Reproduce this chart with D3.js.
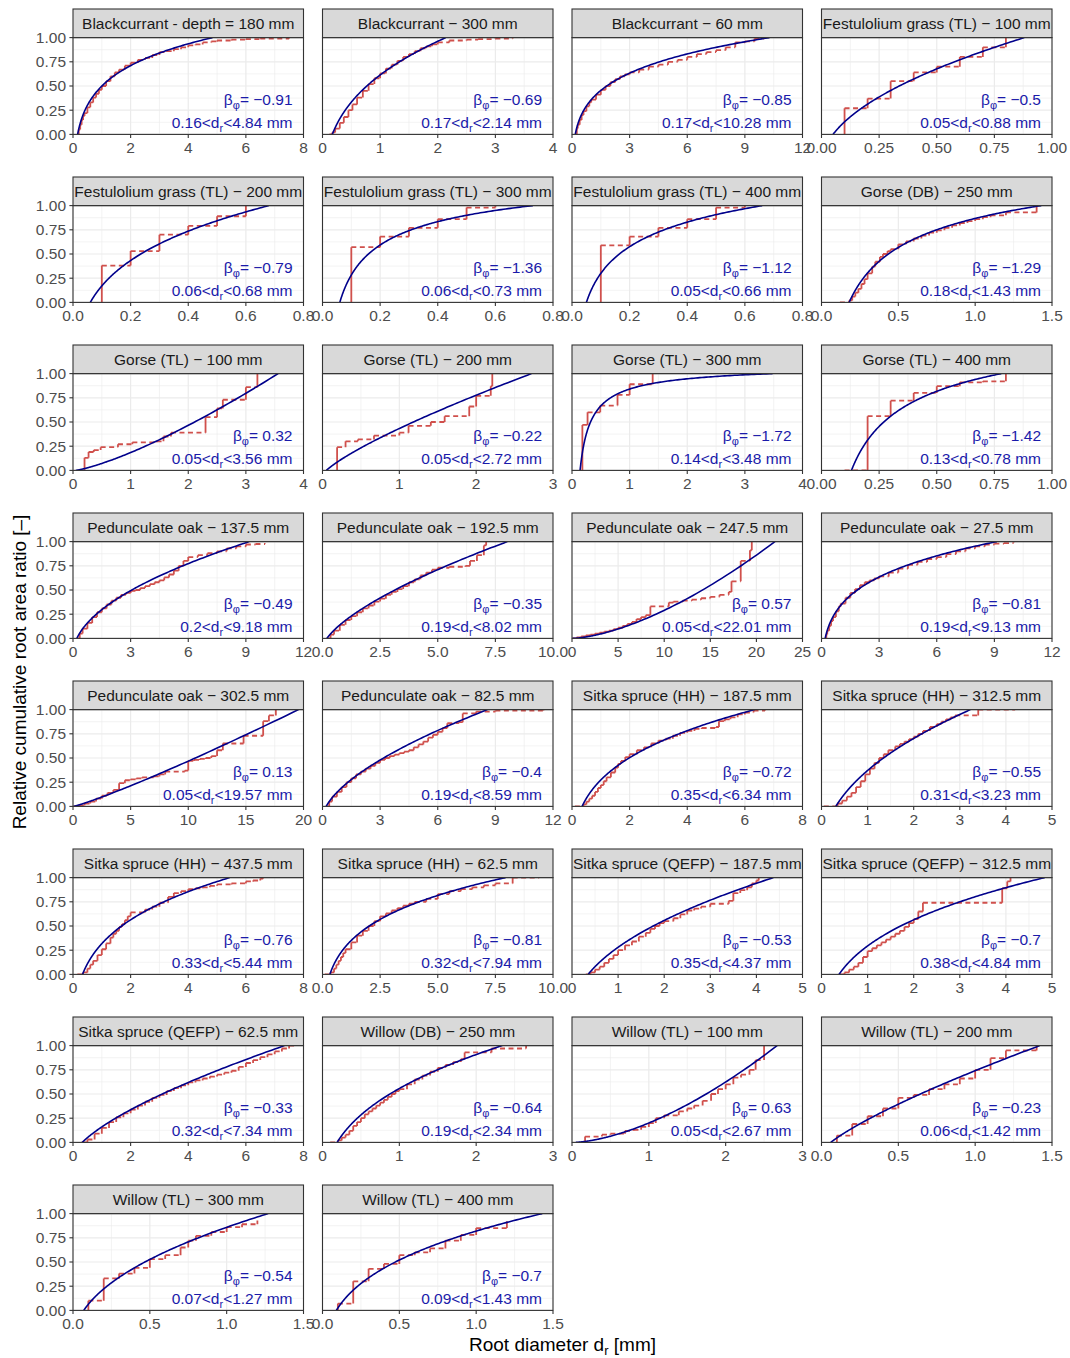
<!DOCTYPE html>
<html>
<head>
<meta charset="utf-8">
<script src="https://cdn.jsdelivr.net/npm/d3@7"></script>
<style>
body { margin: 0; background: #fff; }
text { font-family: "Liberation Sans", Arial, sans-serif; }
</style>
</head>
<body>
<div id="chart"></div>
<script>
// facet titles, in panel order (4 per row)
var panelTitles = [
	"Blackcurrant - depth = 180 mm", "Blackcurrant \u2212 300 mm", "Blackcurrant \u2212 60 mm", "Festulolium grass (TL) \u2212 100 mm",
	"Festulolium grass (TL) \u2212 200 mm", "Festulolium grass (TL) \u2212 300 mm", "Festulolium grass (TL) \u2212 400 mm", "Gorse (DB) \u2212 250 mm",
	"Gorse (TL) \u2212 100 mm", "Gorse (TL) \u2212 200 mm", "Gorse (TL) \u2212 300 mm", "Gorse (TL) \u2212 400 mm",
	"Pedunculate oak \u2212 137.5 mm", "Pedunculate oak \u2212 192.5 mm", "Pedunculate oak \u2212 247.5 mm", "Pedunculate oak \u2212 27.5 mm",
	"Pedunculate oak \u2212 302.5 mm", "Pedunculate oak \u2212 82.5 mm", "Sitka spruce (HH) \u2212 187.5 mm", "Sitka spruce (HH) \u2212 312.5 mm",
	"Sitka spruce (HH) \u2212 437.5 mm", "Sitka spruce (HH) \u2212 62.5 mm", "Sitka spruce (QEFP) \u2212 187.5 mm", "Sitka spruce (QEFP) \u2212 312.5 mm",
	"Sitka spruce (QEFP) \u2212 62.5 mm", "Willow (DB) \u2212 250 mm", "Willow (TL) \u2212 100 mm", "Willow (TL) \u2212 200 mm",
	"Willow (TL) \u2212 300 mm", "Willow (TL) \u2212 400 mm"
];

// fitted power-law exponent and diameter range per panel
var betaPhi = [-0.91, -0.69, -0.85, -0.5, -0.79, -1.36, -1.12, -1.29, 0.32, -0.22, -1.72, -1.42,
	-0.49, -0.35, 0.57, -0.81, 0.13, -0.4, -0.72, -0.55, -0.76, -0.81, -0.53, -0.7,
	-0.33, -0.64, 0.63, -0.23, -0.54, -0.7];
var dMin = [0.16, 0.17, 0.17, 0.05, 0.06, 0.06, 0.05, 0.18, 0.05, 0.05, 0.14, 0.13,
	0.2, 0.19, 0.05, 0.19, 0.05, 0.19, 0.35, 0.31, 0.33, 0.32, 0.35, 0.38,
	0.32, 0.19, 0.05, 0.06, 0.07, 0.09];
var dMax = [4.84, 2.14, 10.28, 0.88, 0.68, 0.73, 0.66, 1.43, 3.56, 2.72, 3.48, 0.78,
	9.18, 8.02, 22.01, 9.13, 19.57, 8.59, 6.34, 3.23, 5.44, 7.94, 4.37, 4.84,
	7.34, 2.34, 2.67, 1.42, 1.27, 1.43];

// x axis ticks per panel (last tick = axis limit)
var xTicks = [
	[0, 2, 4, 6, 8], [0, 1, 2, 3, 4], [0, 3, 6, 9, 12], [0, 0.25, 0.5, 0.75, 1],
	[0, 0.2, 0.4, 0.6, 0.8], [0, 0.2, 0.4, 0.6, 0.8], [0, 0.2, 0.4, 0.6, 0.8], [0, 0.5, 1, 1.5],
	[0, 1, 2, 3, 4], [0, 1, 2, 3], [0, 1, 2, 3, 4], [0, 0.25, 0.5, 0.75, 1],
	[0, 3, 6, 9, 12], [0, 2.5, 5, 7.5, 10], [0, 5, 10, 15, 20, 25], [0, 3, 6, 9, 12],
	[0, 5, 10, 15, 20], [0, 3, 6, 9, 12], [0, 2, 4, 6, 8], [0, 1, 2, 3, 4, 5],
	[0, 2, 4, 6, 8], [0, 2.5, 5, 7.5, 10], [0, 1, 2, 3, 4, 5], [0, 1, 2, 3, 4, 5],
	[0, 2, 4, 6, 8], [0, 1, 2, 3], [0, 1, 2, 3], [0, 0.5, 1, 1.5],
	[0, 0.5, 1, 1.5], [0, 0.5, 1, 1.5]
];
var yTicks = [0, 0.25, 0.5, 0.75, 1];

// measured cumulative root area ratio: [diameter, cumulative ratio]
var measured = [
	[[0.16,0],[0.2,0.05],[0.25,0.1],[0.3,0.15],[0.35,0.19],[0.4,0.22],[0.5,0.28],[0.6,0.33],[0.7,0.38],[0.8,0.42],[0.9,0.46],[1,0.5],[1.15,0.55],[1.3,0.6],[1.45,0.64],[1.6,0.67],[1.8,0.71],[2,0.74],[2.25,0.77],[2.5,0.79],[2.75,0.82],[3,0.85],[3.25,0.86],[3.5,0.88],[3.75,0.9],[4,0.92],[4.25,0.93],[4.5,0.95],[4.8,0.96],[5,0.97],[5.5,0.98],[6,0.985],[6.5,0.99],[7.5,1]],
	[[0.12,0],[0.17,0.02],[0.22,0.06],[0.3,0.12],[0.37,0.18],[0.45,0.25],[0.52,0.31],[0.6,0.38],[0.7,0.45],[0.8,0.52],[0.9,0.58],[1,0.63],[1.1,0.68],[1.2,0.72],[1.3,0.76],[1.4,0.8],[1.5,0.83],[1.6,0.86],[1.7,0.89],[1.8,0.91],[1.9,0.93],[2,0.95],[2.2,0.97],[2.5,0.98],[2.7,0.985],[3,0.99],[3.3,0.995]],
	[[0.17,0],[0.25,0.06],[0.3,0.1],[0.4,0.15],[0.5,0.2],[0.6,0.24],[0.75,0.29],[0.9,0.33],[1,0.36],[1.25,0.41],[1.5,0.46],[1.75,0.5],[2,0.54],[2.25,0.57],[2.5,0.6],[2.75,0.62],[3,0.64],[3.5,0.67],[4,0.7],[4.5,0.72],[5,0.75],[5.5,0.77],[6,0.8],[6.5,0.83],[7,0.85],[7.5,0.87],[8,0.9],[8.5,0.95],[9,0.96],[9.5,0.99],[10,1]],
	[[0.1,0.27],[0.2,0.37],[0.3,0.55],[0.4,0.64],[0.5,0.7],[0.6,0.8],[0.7,0.9],[0.8,1]],
	[[0.1,0.38],[0.2,0.53],[0.3,0.7],[0.4,0.79],[0.5,0.89],[0.6,1]],
	[[0.1,0.57],[0.2,0.68],[0.3,0.77],[0.4,0.86],[0.5,0.98],[0.6,1]],
	[[0.1,0.59],[0.2,0.68],[0.3,0.77],[0.4,0.86],[0.5,0.98],[0.6,1]],
	[[0.12,0],[0.18,0.02],[0.2,0.06],[0.22,0.1],[0.24,0.14],[0.26,0.19],[0.28,0.24],[0.3,0.3],[0.33,0.37],[0.35,0.42],[0.38,0.47],[0.4,0.5],[0.43,0.53],[0.45,0.55],[0.5,0.6],[0.55,0.63],[0.6,0.66],[0.65,0.69],[0.7,0.72],[0.75,0.745],[0.8,0.77],[0.85,0.795],[0.9,0.82],[0.95,0.84],[1,0.86],[1.05,0.88],[1.1,0.9],[1.2,0.93],[1.4,1]],
	[[0.2,0.13],[0.27,0.19],[0.36,0.21],[0.48,0.24],[0.78,0.27],[1.03,0.29],[1.45,0.3],[1.57,0.35],[1.7,0.39],[2.3,0.55],[2.5,0.64],[2.6,0.73],[3,0.86],[3.2,1]],
	[[0.19,0.24],[0.3,0.3],[0.46,0.32],[0.67,0.36],[1,0.39],[1.12,0.46],[1.41,0.5],[1.59,0.56],[1.91,0.66],[2,0.77],[2.19,0.87],[2.21,1]],
	[[0.18,0.47],[0.27,0.6],[0.49,0.67],[0.79,0.78],[1,0.89],[1.4,1]],
	[[0.1,0],[0.2,0.56],[0.3,0.72],[0.4,0.8],[0.5,0.87],[0.6,0.91],[0.7,0.92],[0.8,1]],
	[[0.2,0],[0.35,0.05],[0.5,0.1],[0.75,0.16],[1,0.22],[1.25,0.27],[1.5,0.31],[1.75,0.35],[2,0.39],[2.25,0.42],[2.5,0.45],[2.75,0.47],[3,0.49],[3.25,0.5],[3.5,0.52],[3.75,0.54],[4,0.56],[4.25,0.58],[4.5,0.6],[4.75,0.63],[5,0.66],[5.25,0.7],[5.5,0.75],[5.75,0.8],[6,0.84],[6.5,0.86],[7,0.88],[7.5,0.9],[8,0.93],[8.5,0.95],[9,0.97],[9.5,0.975],[10,0.98]],
	[[0.19,0],[0.35,0.04],[0.5,0.08],[0.75,0.14],[1,0.19],[1.25,0.23],[1.5,0.27],[1.75,0.31],[2,0.34],[2.25,0.38],[2.5,0.41],[2.75,0.45],[3,0.48],[3.25,0.51],[3.5,0.54],[3.75,0.58],[4,0.61],[4.25,0.65],[4.5,0.68],[4.75,0.71],[5,0.73],[5.5,0.74],[6.2,0.75],[6.4,0.8],[6.7,0.86],[7,0.96],[7.1,1]],
	[[0.05,0],[0.5,0.01],[1,0.02],[1.5,0.03],[2,0.04],[2.5,0.05],[3,0.06],[3.5,0.07],[4,0.08],[4.5,0.095],[5,0.11],[5.5,0.13],[6,0.15],[6.5,0.17],[7,0.2],[7.5,0.22],[8,0.24],[8.5,0.33],[10.5,0.37],[11,0.38],[12,0.39],[13,0.4],[14,0.415],[15,0.43],[16,0.45],[17,0.48],[17.3,0.59],[18.3,0.8],[19.3,0.91],[19.5,1]],
	[[0.19,0],[0.25,0.04],[0.3,0.08],[0.4,0.13],[0.5,0.18],[0.6,0.22],[0.75,0.28],[0.9,0.33],[1,0.36],[1.25,0.42],[1.5,0.47],[1.75,0.51],[2,0.55],[2.25,0.58],[2.5,0.6],[2.75,0.62],[3,0.64],[3.5,0.68],[4,0.72],[4.5,0.76],[5,0.79],[5.5,0.82],[6,0.84],[6.5,0.87],[7,0.9],[7.5,0.93],[8,0.95],[8.5,0.97],[9,0.98],[9.5,0.985],[10,0.99]],
	[[0.05,0],[0.5,0.01],[1,0.03],[1.5,0.05],[2,0.08],[2.5,0.11],[3,0.14],[3.5,0.17],[4,0.24],[4.5,0.27],[5,0.28],[5.5,0.29],[6,0.3],[7,0.31],[7.5,0.33],[8,0.36],[9.7,0.37],[10,0.47],[10.5,0.48],[11,0.49],[11.5,0.5],[12,0.52],[12.5,0.58],[13,0.65],[14.8,0.73],[16.5,0.88],[17,0.94],[17.6,1]],
	[[0.19,0],[0.35,0.05],[0.5,0.1],[0.75,0.15],[1,0.2],[1.25,0.25],[1.5,0.29],[1.75,0.33],[2,0.36],[2.25,0.39],[2.5,0.42],[2.75,0.45],[3,0.48],[3.25,0.5],[3.5,0.52],[3.75,0.535],[4,0.55],[4.25,0.565],[4.5,0.58],[4.75,0.61],[5,0.64],[5.25,0.67],[5.5,0.71],[5.75,0.74],[6,0.77],[6.25,0.81],[6.5,0.86],[7.1,0.87],[7.3,0.96],[8,0.98],[9,0.99],[11.5,1]],
	[[0.1,0],[0.4,0.02],[0.5,0.05],[0.6,0.08],[0.7,0.11],[0.8,0.15],[0.9,0.19],[1,0.22],[1.1,0.26],[1.2,0.3],[1.35,0.35],[1.5,0.4],[1.6,0.44],[1.7,0.47],[1.85,0.51],[2,0.54],[2.25,0.58],[2.5,0.61],[2.75,0.65],[3,0.68],[3.25,0.7],[3.5,0.73],[3.75,0.76],[4,0.78],[4.25,0.8],[4.5,0.81],[5,0.82],[5.1,0.88],[5.3,0.9],[5.5,0.92],[5.75,0.95],[6,0.97],[6.3,0.99],[6.7,1]],
	[[0.05,0],[0.35,0.03],[0.45,0.06],[0.55,0.1],[0.65,0.14],[0.75,0.2],[0.85,0.26],[0.95,0.33],[1.05,0.39],[1.15,0.45],[1.25,0.5],[1.35,0.54],[1.45,0.58],[1.6,0.62],[1.7,0.645],[1.8,0.67],[1.9,0.695],[2,0.72],[2.1,0.75],[2.2,0.78],[2.35,0.82],[2.5,0.85],[2.6,0.875],[2.7,0.9],[2.8,0.92],[2.9,0.94],[3.4,1],[4.2,1]],
	[[0.15,0],[0.35,0.02],[0.5,0.06],[0.6,0.1],[0.7,0.14],[0.85,0.2],[1,0.26],[1.15,0.32],[1.3,0.38],[1.4,0.42],[1.5,0.45],[1.6,0.49],[1.7,0.52],[1.8,0.56],[1.9,0.6],[2,0.64],[2.5,0.67],[2.75,0.7],[3,0.74],[3.3,0.8],[3.5,0.84],[3.75,0.86],[4,0.88],[4.25,0.89],[4.5,0.9],[4.75,0.915],[5,0.93],[5.5,0.94],[6,0.96],[6.25,0.97],[6.5,0.99],[6.6,1]],
	[[0.1,0],[0.35,0.02],[0.5,0.06],[0.6,0.1],[0.7,0.14],[0.8,0.18],[0.9,0.22],[1,0.26],[1.25,0.33],[1.5,0.4],[1.75,0.45],[2,0.5],[2.25,0.55],[2.5,0.6],[2.75,0.63],[3,0.66],[3.25,0.685],[3.5,0.71],[3.75,0.73],[4,0.75],[4.5,0.78],[5,0.83],[5.5,0.86],[6,0.88],[6.5,0.9],[7,0.92],[7.5,0.94],[8.25,1],[9.4,1]],
	[[0.3,0],[0.4,0.02],[0.5,0.05],[0.6,0.08],[0.7,0.12],[0.8,0.16],[0.9,0.2],[1,0.25],[1.15,0.3],[1.3,0.34],[1.45,0.39],[1.6,0.43],[1.7,0.47],[1.8,0.5],[1.9,0.53],[2,0.55],[2.2,0.58],[2.35,0.62],[2.5,0.66],[2.65,0.68],[2.8,0.7],[3,0.73],[3.4,0.76],[3.5,0.84],[3.65,0.87],[3.8,0.9],[3.9,0.94],[4,0.97],[4.05,1]],
	[[0.4,0],[0.5,0.02],[0.6,0.05],[0.7,0.08],[0.8,0.12],[0.9,0.18],[1,0.24],[1.1,0.27],[1.2,0.3],[1.3,0.33],[1.4,0.36],[1.5,0.39],[1.6,0.42],[1.7,0.45],[1.8,0.49],[1.9,0.53],[2,0.57],[2.1,0.65],[2.2,0.74],[3.92,0.89],[4.03,0.96],[4.1,1]],
	[[0.3,0],[0.5,0.03],[0.75,0.09],[1,0.15],[1.25,0.21],[1.5,0.26],[1.75,0.3],[2,0.34],[2.25,0.38],[2.5,0.42],[2.75,0.46],[3,0.49],[3.25,0.53],[3.5,0.56],[3.75,0.59],[4,0.62],[4.25,0.64],[4.5,0.66],[4.75,0.68],[5,0.7],[5.25,0.72],[5.5,0.74],[5.75,0.78],[6,0.82],[6.25,0.85],[6.5,0.88],[6.75,0.91],[7,0.94],[7.25,0.97],[7.5,1],[7.7,1]],
	[[0.1,0],[0.2,0.02],[0.25,0.05],[0.3,0.08],[0.35,0.12],[0.4,0.17],[0.45,0.21],[0.5,0.25],[0.55,0.29],[0.6,0.32],[0.65,0.35],[0.7,0.38],[0.75,0.41],[0.8,0.44],[0.85,0.47],[0.9,0.5],[0.95,0.53],[1,0.55],[1.1,0.6],[1.2,0.65],[1.3,0.69],[1.4,0.73],[1.5,0.77],[1.6,0.8],[1.7,0.83],[1.8,0.86],[1.85,0.93],[2.2,0.97],[2.65,1]],
	[[0.17,0.06],[0.39,0.08],[0.5,0.09],[0.69,0.12],[0.8,0.13],[0.9,0.16],[1,0.2],[1.09,0.25],[1.2,0.28],[1.39,0.32],[1.5,0.35],[1.59,0.38],[1.7,0.43],[1.81,0.5],[1.9,0.55],[2,0.6],[2.1,0.67],[2.2,0.7],[2.31,0.75],[2.39,0.85],[2.5,1]],
	[[0.1,0.07],[0.2,0.19],[0.3,0.27],[0.4,0.35],[0.5,0.46],[0.6,0.49],[0.7,0.55],[0.8,0.6],[0.9,0.66],[1,0.75],[1.1,0.87],[1.2,0.95],[1.4,1]],
	[[0.1,0.1],[0.2,0.33],[0.3,0.38],[0.4,0.44],[0.5,0.53],[0.6,0.57],[0.7,0.65],[0.75,0.72],[0.8,0.77],[0.9,0.81],[1,0.86],[1.1,0.89],[1.2,0.93]],
	[[0.1,0.07],[0.2,0.3],[0.3,0.43],[0.4,0.48],[0.5,0.57],[0.6,0.6],[0.7,0.64],[0.8,0.72],[0.9,0.78],[1,0.85],[1.2,0.92]]
];

var width = 1070, height = 1358;
var marginLeft = 73, marginTop = 9, colStep = 249.5, rowStep = 168;
var pw = 230.5, ph = 96.8, stripH = 28.6;
var red = "#d0504c", blue = "#00008b", textBlue = "#1a1aaa";

var svg = d3.select("#chart").append("svg")
	.attr("width", width)
	.attr("height", height);

// cumulative of a power law d^beta between lo and d, normalised to 1 at hi
function fitCurve(b, lo, hi) {
	var e = b + 1;
	var F = function(d){ return Math.abs(e) < 1e-9 ? Math.log(d) : Math.pow(d, e) / e; };
	return d3.range(201).map(function(k){
		var d = lo * Math.pow(hi / lo, k / 200);
		return [d, (F(d) - F(lo)) / (F(hi) - F(lo))];
	});
}

function signed(v){
	return (v < 0 ? "\u2212" : "") + Math.abs(v);
}

panelTitles.forEach(function(title, i){
	var c = i % 4, r = Math.floor(i / 4);
	var x0 = marginLeft + c * colStep;
	var sy = marginTop + r * rowStep;
	var y0 = sy + stripH;
	var ticks = xTicks[i];
	var decimals = (String(ticks[1]).split(".")[1] || "").length;
	var fmt = d3.format("." + decimals + "f");

	var x = d3.scaleLinear().domain([0, ticks[ticks.length - 1]]).range([0, pw]);
	var y = d3.scaleLinear().domain([0, 1]).range([ph, 0]);

	var g = svg.append("g").attr("transform", "translate(" + x0 + "," + y0 + ")");

	svg.append("clipPath").attr("id", "clip" + i)
		.append("rect").attr("width", pw).attr("height", ph);

	g.append("rect").attr("width", pw).attr("height", ph).attr("fill", "#fff");

	// grid
	var xMinor = ticks.slice(1).map(function(t, k){ return (t + ticks[k]) / 2; });
	var yMinor = yTicks.slice(1).map(function(t, k){ return (t + yTicks[k]) / 2; });
	g.selectAll(null).data(xMinor).enter().append("line")
		.attr("x1", x).attr("x2", x).attr("y1", 0).attr("y2", ph)
		.attr("stroke", "#ebebeb").attr("stroke-width", 0.6);
	g.selectAll(null).data(yMinor).enter().append("line")
		.attr("y1", y).attr("y2", y).attr("x1", 0).attr("x2", pw)
		.attr("stroke", "#ebebeb").attr("stroke-width", 0.6);
	g.selectAll(null).data(ticks).enter().append("line")
		.attr("x1", x).attr("x2", x).attr("y1", 0).attr("y2", ph)
		.attr("stroke", "#ebebeb").attr("stroke-width", 1.2);
	g.selectAll(null).data(yTicks).enter().append("line")
		.attr("y1", y).attr("y2", y).attr("x1", 0).attr("x2", pw)
		.attr("stroke", "#ebebeb").attr("stroke-width", 1.2);

	var plot = g.append("g").attr("clip-path", "url(#clip" + i + ")");

	// measured step curve: risers solid, treads dashed
	var pts = measured[i];
	var risers = [], treads = [];
	var prev = 0;
	pts.forEach(function(p, k){
		risers.push([p[0], prev, p[1]]);
		if (k < pts.length - 1) treads.push([p[0], pts[k + 1][0], p[1]]);
		prev = p[1];
	});
	plot.selectAll(null).data(treads).enter().append("line")
		.attr("x1", function(s){ return x(s[0]); })
		.attr("x2", function(s){ return x(s[1]); })
		.attr("y1", function(s){ return y(s[2]); })
		.attr("y2", function(s){ return y(s[2]); })
		.attr("stroke", red).attr("stroke-width", 1.8)
		.attr("stroke-dasharray", "5,3.5");
	plot.selectAll(null).data(risers).enter().append("line")
		.attr("x1", function(s){ return x(s[0]); })
		.attr("x2", function(s){ return x(s[0]); })
		.attr("y1", function(s){ return y(s[1]); })
		.attr("y2", function(s){ return y(s[2]); })
		.attr("stroke", red).attr("stroke-width", 1.8);

	// fitted curve
	plot.append("path")
		.datum(fitCurve(betaPhi[i], dMin[i], dMax[i]))
		.attr("d", d3.line().x(function(d){ return x(d[0]); }).y(function(d){ return y(d[1]); }))
		.attr("fill", "none").attr("stroke", blue).attr("stroke-width", 1.6);

	// annotation
	var t1 = g.append("text").attr("x", pw - 11).attr("y", 67.5)
		.attr("text-anchor", "end").attr("font-size", 15.5).attr("fill", textBlue);
	t1.append("tspan").text("\u03b2");
	t1.append("tspan").attr("dy", 4).attr("font-size", 11).text("\u03c6");
	t1.append("tspan").attr("dy", -4).text("= " + signed(betaPhi[i]));

	var t2 = g.append("text").attr("x", pw - 11).attr("y", 90)
		.attr("text-anchor", "end").attr("font-size", 15.5).attr("fill", textBlue);
	t2.append("tspan").text(dMin[i] + "<d");
	t2.append("tspan").attr("dy", 4).attr("font-size", 11).text("r");
	t2.append("tspan").attr("dy", -4).text("<" + dMax[i] + " mm");

	// border
	g.append("rect").attr("width", pw).attr("height", ph)
		.attr("fill", "none").attr("stroke", "#333").attr("stroke-width", 1.1);

	// x axis
	g.selectAll(null).data(ticks).enter().append("line")
		.attr("x1", x).attr("x2", x).attr("y1", ph).attr("y2", ph + 3.6)
		.attr("stroke", "#333").attr("stroke-width", 1.1);
	g.selectAll(null).data(ticks).enter().append("text")
		.attr("x", x).attr("y", ph + 19)
		.attr("text-anchor", "middle").attr("font-size", 15.5).attr("fill", "#4d4d4d")
		.text(fmt);

	// y axis on first column only
	if (c === 0) {
		g.selectAll(null).data(yTicks).enter().append("line")
			.attr("y1", y).attr("y2", y).attr("x1", -3.6).attr("x2", 0)
			.attr("stroke", "#333").attr("stroke-width", 1.1);
		g.selectAll(null).data(yTicks).enter().append("text")
			.attr("x", -7).attr("y", function(d){ return y(d) + 5.5; })
			.attr("text-anchor", "end").attr("font-size", 15.5).attr("fill", "#4d4d4d")
			.text(d3.format(".2f"));
	}

	// strip
	svg.append("rect").attr("x", x0).attr("y", sy).attr("width", pw).attr("height", stripH)
		.attr("fill", "#d9d9d9").attr("stroke", "#333").attr("stroke-width", 1.1);
	svg.append("text").attr("x", x0 + pw / 2).attr("y", sy + 19.5)
		.attr("text-anchor", "middle").attr("font-size", 15.5).attr("fill", "#1a1a1a")
		.text(title);
});

// axis titles
var xt = svg.append("text").attr("x", 562.5).attr("y", 1351)
	.attr("text-anchor", "middle").attr("font-size", 19).attr("fill", "#000");
xt.append("tspan").text("Root diameter d");
xt.append("tspan").attr("dy", 3.5).attr("font-size", 13).text("r");
xt.append("tspan").attr("dy", -3.5).text(" [mm]");

svg.append("text")
	.attr("transform", "translate(25.5,672) rotate(-90)")
	.attr("text-anchor", "middle").attr("font-size", 19).attr("fill", "#000")
	.text("Relative cumulative root area ratio [\u2013]");
</script>
</body>
</html>
